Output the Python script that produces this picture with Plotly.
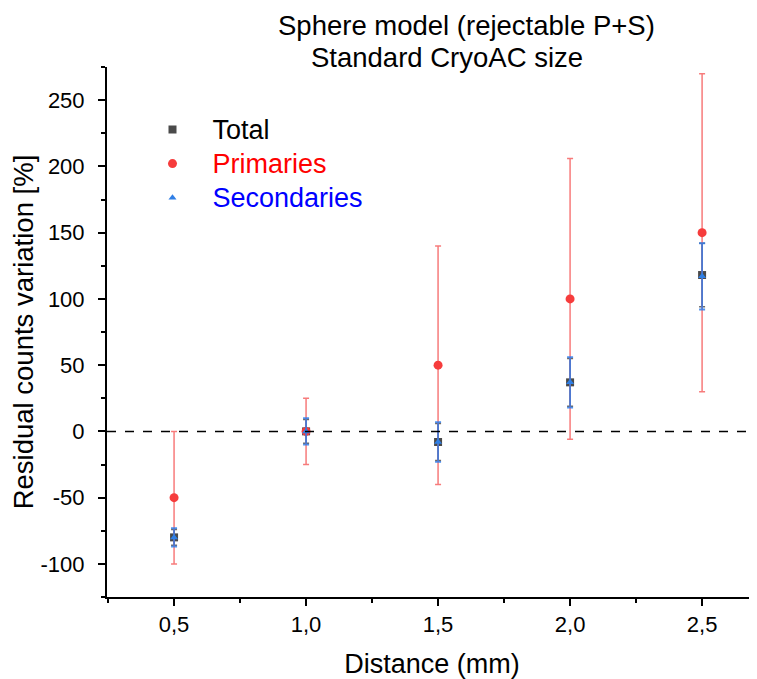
import plotly.graph_objects as go

distance = [0.5, 1.0, 1.5, 2.0, 2.5]

total = [-80, 0, -8, 37, 118]
total_err = [6, 9, 14, 18, 24]

primaries = [-50, 0, 50, 100, 150]
primaries_err = [50, 25, 90, 106, 120]

secondaries = [-80, 0, -8, 37, 117]
secondaries_err = [7, 10, 15, 19, 25]

y_ticks = [-100, -50, 0, 50, 100, 150, 200, 250]
y_labels = ["-100", "-50", "0", "50", "100", "150", "200", "250"]

font = "Liberation Sans, Arial, sans-serif"
nb = "\u00a0" * 3


def legend_label(text, color):
    return nb + '<span style="color:%s;font-size:27px">%s</span>' % (color, text)


fig = go.Figure()

fig.add_trace(go.Scatter(
    x=distance, y=total, mode="markers",
    name=legend_label("Total", "black"),
    marker=dict(symbol="square", size=8, color="#4a4a4a"),
    error_y=dict(type="data", array=total_err, color="rgba(70,70,70,0.8)",
                 thickness=1.5, width=3)
))
fig.add_trace(go.Scatter(
    x=distance, y=primaries, mode="markers",
    name=legend_label("Primaries", "#ff0000"),
    marker=dict(symbol="circle", size=9, color="#f63c3c"),
    error_y=dict(type="data", array=primaries_err, color="rgba(245,90,90,0.8)",
                 thickness=1.5, width=3)
))
fig.add_trace(go.Scatter(
    x=distance, y=secondaries, mode="markers",
    name=legend_label("Secondaries", "#0000ff"),
    marker=dict(symbol="triangle-up", size=7, color="#2f7fe6"),
    error_y=dict(type="data", array=secondaries_err, color="rgba(50,125,230,0.85)",
                 thickness=1.8, width=3)
))

fig.add_shape(type="line", xref="paper", yref="y", x0=0, x1=1, y0=0, y1=0,
              line=dict(color="black", width=1.5, dash="dash"))

fig.add_annotation(text="Sphere model (rejectable P+S)", xref="paper", yref="paper",
                   x=(466 - 107) / 650, y=1 + (67 - 26) / 530, showarrow=False,
                   xanchor="center", yanchor="middle",
                   font=dict(size=27.5, color="black", family=font))
fig.add_annotation(text="Standard CryoAC size", xref="paper", yref="paper",
                   x=(447 - 107) / 650, y=1 + (67 - 58) / 530, showarrow=False,
                   xanchor="center", yanchor="middle",
                   font=dict(size=27.5, color="black", family=font))

# page body has an 8px margin, so the figure is a bit smaller than the window
fig.update_layout(
    width=749, height=671,
    margin=dict(l=99, r=0, t=59, b=82),
    paper_bgcolor="white", plot_bgcolor="white",
    separators=",.",
    font=dict(family=font, color="black"),
    showlegend=True,
    legend=dict(x=0.07, y=0.924, xanchor="left", yanchor="top",
                bgcolor="rgba(0,0,0,0)", font=dict(size=24, family=font),
                itemwidth=30, tracegroupgap=0),
    xaxis=dict(
        range=[0.246, 2.708], tickvals=distance, tickformat=".1f",
        showline=True, linecolor="black", linewidth=2, mirror=False,
        ticks="outside", ticklen=7, tickwidth=1.5, tickcolor="black",
        minor=dict(dtick=0.25, tick0=0.25, ticks="outside", ticklen=4, tickwidth=1.5, tickcolor="black"),
        showgrid=False, zeroline=False, automargin=False,
        tickfont=dict(size=22, family=font), ticklabelstandoff=0,
        title=dict(text="Distance (mm)", font=dict(size=27, family=font), standoff=22),
    ),
    yaxis=dict(
        range=[-125, 275], tickvals=y_ticks, ticktext=y_labels,
        showline=True, linecolor="black", linewidth=2, mirror=False,
        ticks="outside", ticklen=7, tickwidth=1.5, tickcolor="black",
        minor=dict(dtick=25, tick0=25, ticks="outside", ticklen=4, tickwidth=1.5, tickcolor="black"),
        showgrid=False, zeroline=False, automargin=False,
        tickfont=dict(size=22, family=font), ticklabelstandoff=9,
        title=dict(text="Residual counts variation [%]", font=dict(size=27.5, family=font), standoff=6),
    ),
)

fig.write_html("out.html")
